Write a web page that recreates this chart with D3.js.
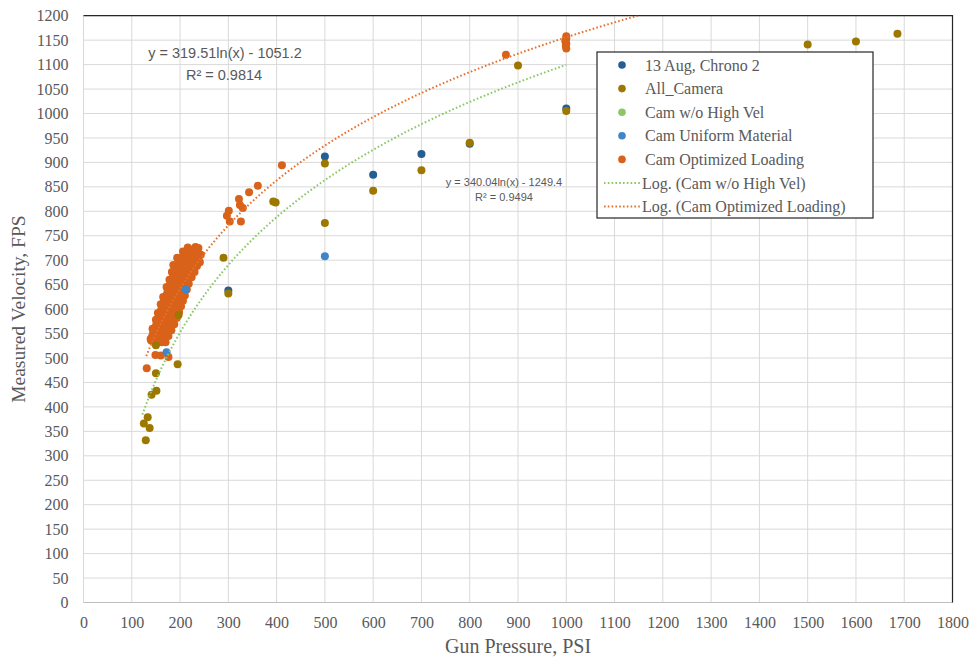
<!DOCTYPE html>
<html>
<head>
<meta charset="utf-8">
<script src="https://cdn.jsdelivr.net/npm/d3@7"></script>
<style>
  body { margin: 0; background: #fff; }
  svg { display: block; }
</style>
</head>
<body>
<svg id="chart"></svg>
<script>
// ---- data ----
const xTicks = d3.range(0, 1801, 100);
const yTicks = d3.range(0, 1201, 50);

const aug13 = [[300, 638], [500, 912], [600, 875], [700, 917], [800, 938], [1000, 1010]];

const allCamera = [
  [129, 332], [125, 366], [137, 357], [133, 379], [141, 425], [151, 433],
  [150, 469], [150, 526], [197, 588], [195, 487], [290, 705], [300, 632],
  [393, 820], [398, 818], [500, 898], [500, 776], [600, 842], [700, 884],
  [800, 940], [900, 1098], [1000, 1005], [1500, 1141], [1600, 1147], [1686, 1163]
];

const camNoHighVel = [];

const camUniform = [[172, 512], [212, 640], [500, 708]];

const camOptimized = [
  [232, 727], [238, 725], [226, 722], [236, 719], [220, 716], [232, 714],
  [212, 712], [228, 710], [240, 709], [205, 706], [218, 705], [232, 703],
  [200, 701], [212, 700], [226, 699], [237, 697], [197, 696], [208, 694], [220, 693], [232, 692],
  [194, 690], [204, 689], [216, 688], [228, 686], [192, 684], [202, 683], [214, 682], [226, 680],
  [190, 679], [200, 677], [210, 676], [222, 675], [188, 673], [198, 672], [208, 670], [220, 669],
  [186, 668], [196, 666], [206, 665], [216, 663], [184, 662], [194, 661], [204, 659], [214, 658],
  [182, 657], [192, 655], [202, 654], [212, 652], [180, 651], [190, 650], [200, 648], [210, 647],
  [178, 646], [188, 644], [198, 643], [208, 641], [176, 640], [186, 639], [196, 637], [206, 636],
  [174, 635], [184, 633], [194, 632], [204, 630], [172, 629], [182, 628], [192, 626], [202, 625],
  [170, 624], [180, 622], [190, 621], [200, 619], [168, 618], [178, 617], [188, 615], [198, 614],
  [166, 613], [176, 611], [186, 610], [196, 608], [164, 607], [174, 606], [184, 604], [194, 603],
  [162, 602], [172, 600], [182, 599], [192, 597], [160, 596], [170, 595], [180, 593], [190, 592],
  [158, 591], [168, 589], [178, 588], [188, 586], [157, 585], [166, 584], [176, 582], [186, 581],
  [155, 580], [164, 578], [174, 577], [183, 575], [153, 574], [162, 573], [172, 571], [180, 570],
  [151, 569], [160, 567], [170, 566], [178, 564], [149, 563], [158, 562], [168, 560], [176, 559],
  [147, 558], [156, 556], [166, 555], [173, 553], [145, 552], [154, 551], [164, 549], [170, 548],
  [143, 547], [152, 545], [162, 544], [168, 542], [141, 541], [150, 540], [160, 538], [165, 537],
  [140, 536], [148, 535], [158, 534], [139, 539], [162, 532],
  // lumps on the edges of the cluster
  [224, 665], [218, 652], [214, 640], [210, 628], [206, 617], [202, 606], [198, 594],
  [193, 582], [188, 569], [182, 557], [176, 545], [170, 532], [230, 676], [235, 688],
  [183, 676], [178, 660], [172, 645], [165, 625], [160, 610], [154, 592], [150, 578],
  [143, 560], [186, 690], [194, 705], [206, 718], [216, 726],
  [149, 506], [160, 505], [176, 502], [131, 479],
  [243, 711], [241, 696],
  [297, 791], [301, 801], [303, 779], [322, 825], [324, 813], [330, 807], [326, 779],
  [343, 839], [361, 852], [411, 894], [875, 1120],
  [1000, 1158], [1000, 1153], [998, 1148], [1000, 1143], [999, 1138], [1000, 1133]
];

// trendline coefficients shown on the chart: y = a ln(x) + b
const fitNoHighVel = { a: 340.04, b: -1249.4, from: 122, to: 1000 };
const fitOptimized = { a: 319.51, b: -1051.2, from: 130, to: 1148 };

const legendItems = [
  { label: "13 Aug, Chrono 2", color: "#255e91", kind: "dot" },
  { label: "All_Camera", color: "#9c7800", kind: "dot" },
  { label: "Cam w/o High Vel", color: "#8ac765", kind: "dot" },
  { label: "Cam Uniform Material", color: "#3f86c9", kind: "dot" },
  { label: "Cam Optimized Loading", color: "#d9621a", kind: "dot" },
  { label: "Log. (Cam w/o High Vel)", color: "#8ac765", kind: "line" },
  { label: "Log. (Cam Optimized Loading)", color: "#e8702a", kind: "line" }
];

// ---- layout ----
const width = 974, height = 660;
const plot = { left: 83.5, right: 952.5, top: 15.7, bottom: 602.5 };
const textGrey = "#595959";
const serif = "'Liberation Serif', 'Times New Roman', serif";
const sans = "'Liberation Sans', Arial, sans-serif";

const svg = d3.select("#chart").attr("width", width).attr("height", height);
svg.append("rect").attr("width", width).attr("height", height).attr("fill", "#fff");

const x = d3.scaleLinear().domain([0, 1800]).range([plot.left, plot.right]);
const y = d3.scaleLinear().domain([0, 1200]).range([plot.bottom, plot.top]);

// grid
svg.append("g")
  .selectAll("line.v")
  .data(xTicks)
  .join("line")
  .attr("x1", d => x(d)).attr("x2", d => x(d))
  .attr("y1", plot.top).attr("y2", plot.bottom)
  .attr("stroke", "#d9d9d9").attr("stroke-width", 1);

svg.append("g")
  .selectAll("line.h")
  .data(yTicks)
  .join("line")
  .attr("x1", plot.left).attr("x2", plot.right)
  .attr("y1", d => y(d)).attr("y2", d => y(d))
  .attr("stroke", "#d9d9d9").attr("stroke-width", 1);

// axes (labels only, lines drawn below)
const xAxis = svg.append("g")
  .attr("transform", `translate(0,${plot.bottom})`)
  .call(d3.axisBottom(x).tickValues(xTicks).tickFormat(d3.format("d")).tickSize(0).tickPadding(14));
const yAxis = svg.append("g")
  .attr("transform", `translate(${plot.left},0)`)
  .call(d3.axisLeft(y).tickValues(yTicks).tickFormat(d3.format("d")).tickSize(0).tickPadding(15));
[xAxis, yAxis].forEach(g => {
  g.select(".domain").remove();
  g.selectAll("text").attr("fill", textGrey).style("font-family", serif).style("font-size", "16px");
});

// plot borders: light left/bottom, dark top/right
svg.append("line").attr("x1", plot.left).attr("x2", plot.right).attr("y1", plot.bottom).attr("y2", plot.bottom)
  .attr("stroke", "#bfbfbf");
svg.append("line").attr("x1", plot.left).attr("x2", plot.left).attr("y1", plot.top).attr("y2", plot.bottom)
  .attr("stroke", "#d9d9d9");
svg.append("path")
  .attr("d", `M${plot.left},${plot.top}H${plot.right}V${plot.bottom}`)
  .attr("fill", "none").attr("stroke", "#262626").attr("stroke-width", 1.2);

// axis titles
svg.append("text")
  .attr("x", (plot.left + plot.right) / 2).attr("y", 653)
  .attr("text-anchor", "middle").attr("fill", textGrey)
  .style("font-family", serif).style("font-size", "20px")
  .text("Gun Pressure, PSI");

svg.append("text")
  .attr("transform", `translate(25,${(plot.top + plot.bottom) / 2}) rotate(-90)`)
  .attr("text-anchor", "middle").attr("fill", textGrey)
  .style("font-family", serif).style("font-size", "19.5px")
  .text("Measured Velocity, FPS");

// points
function drawSeries(data, color) {
  svg.append("g")
    .selectAll("circle")
    .data(data)
    .join("circle")
    .attr("cx", d => x(d[0]))
    .attr("cy", d => y(d[1]))
    .attr("r", 4)
    .attr("fill", color);
}
drawSeries(aug13, legendItems[0].color);
drawSeries(camOptimized, legendItems[4].color);
drawSeries(camNoHighVel, legendItems[2].color);
drawSeries(allCamera, legendItems[1].color);
drawSeries(camUniform, legendItems[3].color);

// log trendlines
svg.append("clipPath").attr("id", "plotClip")
  .append("rect").attr("x", plot.left).attr("y", plot.top)
  .attr("width", plot.right - plot.left).attr("height", plot.bottom - plot.top);

function drawFit(fit, color) {
  const pts = d3.range(fit.from, fit.to + 1, 2).map(v => [v, fit.a * Math.log(v) + fit.b]);
  svg.append("path")
    .datum(pts)
    .attr("clip-path", "url(#plotClip)")
    .attr("d", d3.line().x(d => x(d[0])).y(d => y(d[1])))
    .attr("fill", "none")
    .attr("stroke", color)
    .attr("stroke-width", 2)
    .attr("stroke-dasharray", "1.6,2.2");
}
drawFit(fitNoHighVel, legendItems[5].color);
drawFit(fitOptimized, legendItems[6].color);

// trendline equations
const eq1 = svg.append("text").attr("fill", textGrey).style("font-family", sans)
  .attr("text-anchor", "middle").style("font-size", "14.5px");
eq1.append("tspan").attr("x", 225).attr("y", 58).text("y = 319.51ln(x) - 1051.2");
eq1.append("tspan").attr("x", 224).attr("y", 80).text("R² = 0.9814");

const eq2 = svg.append("text").attr("fill", textGrey).style("font-family", sans)
  .attr("text-anchor", "middle").style("font-size", "11px");
eq2.append("tspan").attr("x", 504).attr("y", 186).text("y = 340.04ln(x) - 1249.4");
eq2.append("tspan").attr("x", 504).attr("y", 201).text("R² = 0.9494");

// legend
const legend = svg.append("g");
legend.append("rect")
  .attr("x", 597).attr("y", 52).attr("width", 276).attr("height", 166)
  .attr("fill", "#fff").attr("stroke", "#262626").attr("stroke-width", 1.2);

const rows = legend.selectAll("g.item")
  .data(legendItems)
  .join("g")
  .attr("transform", (d, i) => `translate(0,${65 + i * 23.6})`);

rows.filter(d => d.kind === "dot").append("circle")
  .attr("cx", 622).attr("cy", 0).attr("r", 3.8).attr("fill", d => d.color);
rows.filter(d => d.kind === "line").append("line")
  .attr("x1", 604).attr("x2", 640).attr("y1", 0).attr("y2", 0)
  .attr("stroke", d => d.color).attr("stroke-width", 2).attr("stroke-dasharray", "1.6,2.2");
rows.append("text")
  .attr("x", d => d.kind === "dot" ? 645 : 642).attr("y", 0).attr("dy", "0.35em")
  .attr("fill", textGrey).style("font-family", serif).style("font-size", "16px")
  .text(d => d.label);
</script>
</body>
</html>
